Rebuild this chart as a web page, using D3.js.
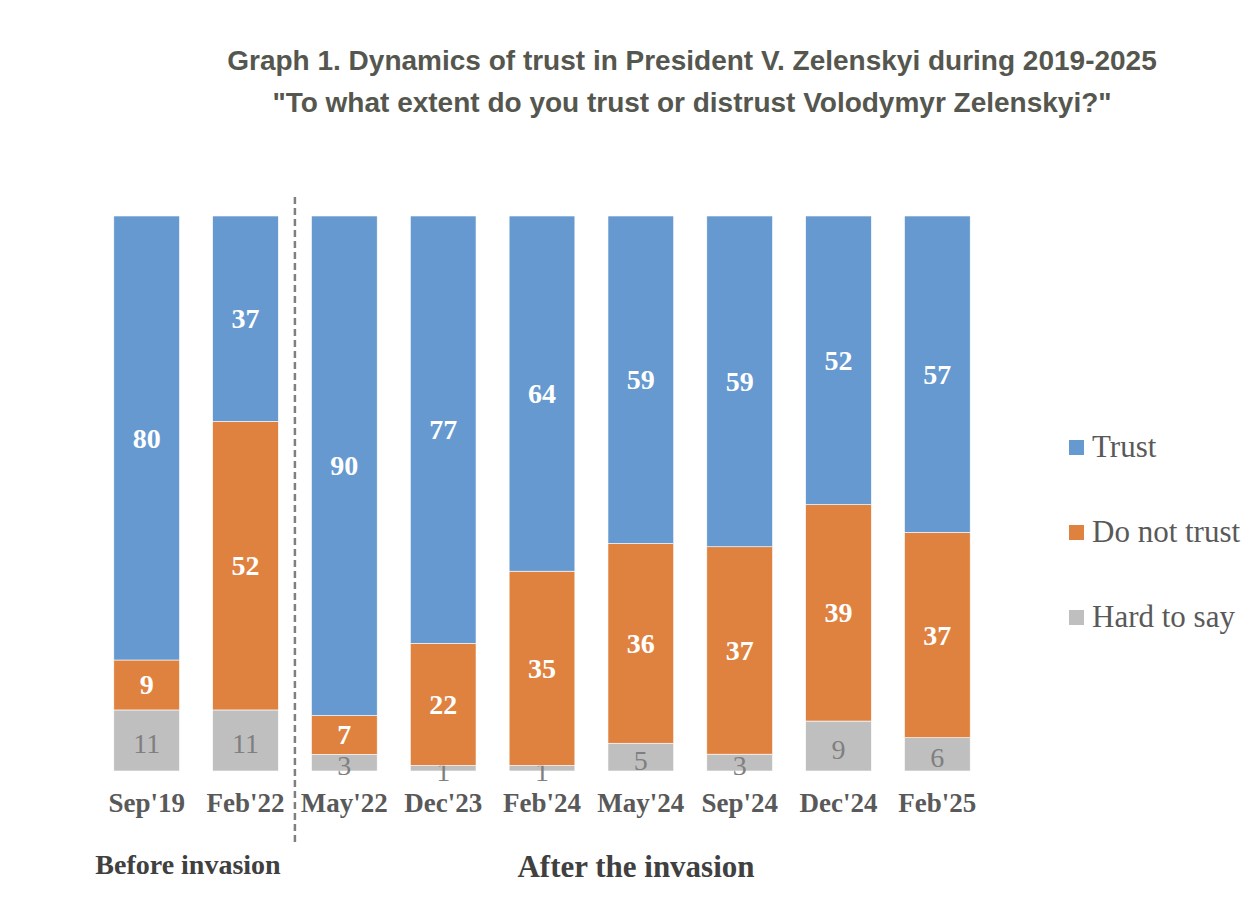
<!DOCTYPE html>
<html>
<head>
<meta charset="utf-8">
<script src="https://cdn.jsdelivr.net/npm/d3@7"></script>
<style>
  body { margin: 0; background: #fff; }
</style>
</head>
<body>
<script>
// Survey waves and answers (percent)
const periods = ["Sep'19", "Feb'22", "May'22", "Dec'23", "Feb'24", "May'24", "Sep'24", "Dec'24", "Feb'25"];
const trust = [80, 37, 90, 77, 64, 59, 59, 52, 57];
const distrust = [9, 52, 7, 22, 35, 36, 37, 39, 37];
const hardToSay = [11, 11, 3, 1, 1, 5, 3, 9, 6];
const seriesNames = ["Trust", "Do not trust", "Hard to say"];

const colors = { "Trust": "#6699cf", "Do not trust": "#e0823f", "Hard to say": "#bfbfbf" };

const width = 1260, height = 904;
const svg = d3.select("body").append("svg")
    .attr("width", width)
    .attr("height", height);

// title
const titleColor = "#55574f";
svg.append("text")
    .attr("x", 692).attr("y", 70)
    .attr("text-anchor", "middle")
    .style("font-family", "Liberation Sans, Arial, sans-serif")
    .style("font-weight", "bold")
    .style("font-size", "28px")
    .style("fill", titleColor)
    .text("Graph 1. Dynamics of trust in President V. Zelenskyi during 2019-2025");
svg.append("text")
    .attr("x", 692).attr("y", 112)
    .attr("text-anchor", "middle")
    .style("font-family", "Liberation Sans, Arial, sans-serif")
    .style("font-weight", "bold")
    .style("font-size", "28px")
    .style("fill", titleColor)
    .text("\"To what extent do you trust or distrust Volodymyr Zelenskyi?\"");

// table for stacking: bottom to top = Hard to say, Do not trust, Trust
const rows = periods.map((p, i) => ({
    period: p,
    "Trust": trust[i],
    "Do not trust": distrust[i],
    "Hard to say": hardToSay[i]
}));

const stack = d3.stack()
    .keys(["Hard to say", "Do not trust", "Trust"])
    .offset(d3.stackOffsetExpand);
const layers = stack(rows);

const x = d3.scaleBand()
    .domain(periods)
    .range([97, 987])
    .paddingInner(0.335)
    .paddingOuter(0.17);

const y = d3.scaleLinear()
    .domain([0, 1])
    .range([771, 216]);

const g = svg.append("g");

const layerG = g.selectAll("g.layer")
    .data(layers)
    .enter().append("g")
    .attr("class", "layer")
    .attr("fill", d => colors[d.key]);

layerG.selectAll("rect")
    .data(d => d)
    .enter().append("rect")
    .attr("x", d => x(d.data.period))
    .attr("width", x.bandwidth())
    .attr("y", d => y(d[1]))
    .attr("height", d => y(d[0]) - y(d[1]))
    .attr("stroke", "#fff")
    .attr("stroke-width", 0.6);

// value labels (grey ones sit a touch lower, like the original)
layerG.selectAll("text")
    .data(d => d.map(v => ({ v, key: d.key })))
    .enter().append("text")
    .attr("x", d => x(d.v.data.period) + x.bandwidth() / 2)
    .attr("y", d => (y(d.v[0]) + y(d.v[1])) / 2 + (d.key === "Hard to say" ? 3 : 0))
    .attr("dy", "0.34em")
    .attr("text-anchor", "middle")
    .style("font-family", "Liberation Serif, Times New Roman, serif")
    .style("font-size", "28px")
    .style("font-weight", d => d.key === "Hard to say" ? "normal" : "bold")
    .style("fill", d => d.key === "Hard to say" ? "#7f7f7f" : "#fff")
    .text(d => d.v.data[d.key]);

// category axis
const xAxis = d3.axisBottom(x).tickSize(0).tickPadding(0);
const axisG = svg.append("g")
    .attr("transform", "translate(0,812)")
    .call(xAxis);
axisG.select(".domain").remove();
axisG.selectAll("text")
    .attr("dy", "0")
    .attr("y", 0)
    .style("font-family", "Liberation Serif, Times New Roman, serif")
    .style("font-weight", "bold")
    .style("font-size", "27px")
    .style("fill", "#595959");

// divider between periods
const divX = (x("Feb'22") + x.bandwidth() + x("May'22")) / 2;
svg.append("line")
    .attr("x1", divX).attr("x2", divX)
    .attr("y1", 197).attr("y2", 846)
    .attr("stroke", "#7f7f7f")
    .attr("stroke-width", 2.5)
    .attr("stroke-dasharray", "7,4");

// period captions
svg.append("text")
    .attr("x", 188).attr("y", 874)
    .attr("text-anchor", "middle")
    .style("font-family", "Liberation Serif, Times New Roman, serif")
    .style("font-weight", "bold")
    .style("font-size", "28px")
    .style("fill", "#404040")
    .text("Before invasion");
svg.append("text")
    .attr("x", 636).attr("y", 877)
    .attr("text-anchor", "middle")
    .style("font-family", "Liberation Serif, Times New Roman, serif")
    .style("font-weight", "bold")
    .style("font-size", "31px")
    .style("fill", "#404040")
    .text("After the invasion");

// legend
const legendY = d3.scalePoint()
    .domain(seriesNames)
    .range([447, 617]);
const legend = svg.append("g").selectAll("g")
    .data(seriesNames)
    .enter().append("g")
    .attr("transform", d => "translate(1069," + legendY(d) + ")");
legend.append("rect")
    .attr("x", 0).attr("y", -7)
    .attr("width", 15).attr("height", 15)
    .attr("fill", d => colors[d]);
legend.append("text")
    .attr("x", 23).attr("y", 0)
    .attr("dy", "0.33em")
    .style("font-family", "Liberation Serif, Times New Roman, serif")
    .style("font-size", "31px")
    .style("fill", "#595959")
    .text(d => d);
</script>
</body>
</html>
